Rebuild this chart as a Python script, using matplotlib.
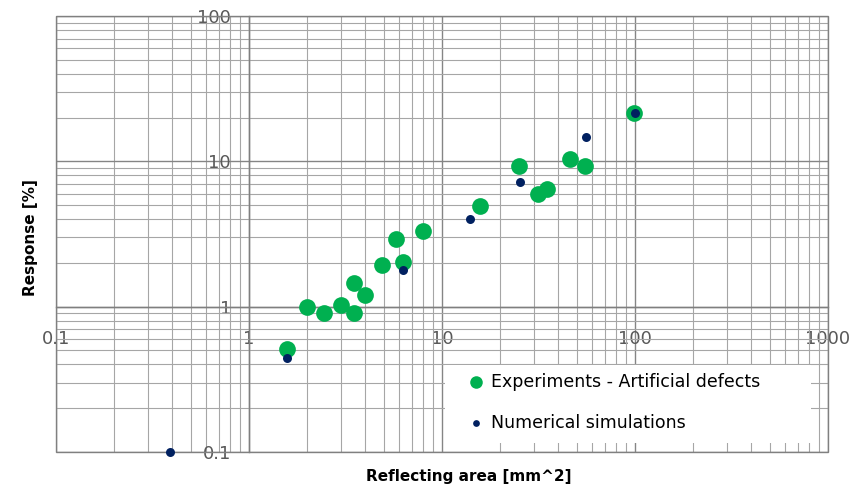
import numpy as np
import matplotlib.pyplot as plt
from matplotlib.patches import Rectangle
from matplotlib.ticker import LogLocator, NullFormatter, FixedLocator, FixedFormatter

# experiments - artificial defects
exp_area = [1.57, 2.0, 2.45, 3.0, 3.5, 3.5, 4.0, 4.9, 5.8, 6.3, 8.0,
            15.7, 25.1, 31.4, 35.0, 46.0, 55.0, 99.0]
exp_resp = [0.51, 1.0, 0.91, 1.02, 0.91, 1.46, 1.21, 1.92, 2.9, 2.04, 3.29,
            4.9, 9.24, 5.92, 6.5, 10.3, 9.24, 21.4]

# numerical simulations
sim_area = [0.39, 1.57, 6.3, 14.0, 25.3, 55.7, 100.0]
sim_resp = [0.10, 0.44, 1.80, 3.98, 7.17, 14.6, 21.5]

x_ticks = [0.1, 1, 10, 100, 1000]
x_labels = ["0.1", "1", "10", "100", "1000"]
y_ticks = [0.1, 1, 10, 100]
y_labels = ["0.1", "1", "10", "100"]

green = "#00b050"
navy = "#002060"
grid_major = "#858585"
grid_minor = "#a6a6a6"
label_col = "#595959"

fig = plt.figure(figsize=(8.64, 4.95), dpi=100)
ax = fig.add_axes([0.0648, 0.0869, 0.8935, 0.8808])
ax.set_xscale("log")
ax.set_yscale("log")
ax.set_xlim(0.1, 1000)
ax.set_ylim(0.1, 100)

ax.set_axisbelow(True)
ax.xaxis.set_major_locator(FixedLocator(x_ticks))
ax.xaxis.set_major_formatter(FixedFormatter(x_labels))
ax.yaxis.set_major_locator(FixedLocator(y_ticks))
ax.yaxis.set_major_formatter(FixedFormatter(y_labels))
ax.xaxis.set_minor_locator(LogLocator(base=10, subs=np.arange(2, 10)))
ax.yaxis.set_minor_locator(LogLocator(base=10, subs=np.arange(2, 10)))
ax.xaxis.set_minor_formatter(NullFormatter())
ax.yaxis.set_minor_formatter(NullFormatter())
ax.grid(which="major", color=grid_major, lw=1.0)
ax.grid(which="minor", color=grid_minor, lw=0.8)

# axes cross at 1, like the spreadsheet chart
ax.spines["left"].set_position(("data", 1))
ax.spines["bottom"].set_position(("data", 1))
for s in ["left", "bottom"]:
    ax.spines[s].set_color("#7f7f7f")
    ax.spines[s].set_linewidth(1.0)
for s in ["top", "right"]:
    ax.spines[s].set_visible(False)
ax.add_patch(Rectangle((0, 0), 1, 1, transform=ax.transAxes, fill=False,
                       edgecolor="#808080", lw=1.0, zorder=2.6, clip_on=False))

ax.tick_params(which="both", length=0)
ax.tick_params(axis="x", pad=17, labelsize=13, labelcolor=label_col)
ax.tick_params(axis="y", pad=13, labelsize=13, labelcolor=label_col)

ax.scatter(exp_area, exp_resp, s=145, color=green, lw=0, zorder=3,
           clip_on=False, label="Experiments - Artificial defects")
ax.scatter(sim_area, sim_resp, s=42, color=navy, lw=0, zorder=4,
           clip_on=False, label="Numerical simulations")

# white legend area, inset from the plot border
ax.add_patch(Rectangle((0.504, 0.021), 0.474, 0.179, transform=ax.transAxes,
                       facecolor="white", edgecolor="none", zorder=2))
ax.legend(loc="upper left", bbox_to_anchor=(0.521, 0.201), frameon=False,
          borderpad=0, handlelength=1.0, handletextpad=0.4, labelspacing=1.3,
          markerscale=0.75, fontsize=12.5)

fig.text(30 / 864, 1 - 238 / 495, "Response [%]", rotation=90, ha="center",
         va="center", fontsize=11, fontweight="bold")
fig.text(469 / 864, 1 - 476 / 495, "Reflecting area [mm^2]", ha="center",
         va="center", fontsize=11, fontweight="bold")

fig.savefig("out.png", dpi=100)
